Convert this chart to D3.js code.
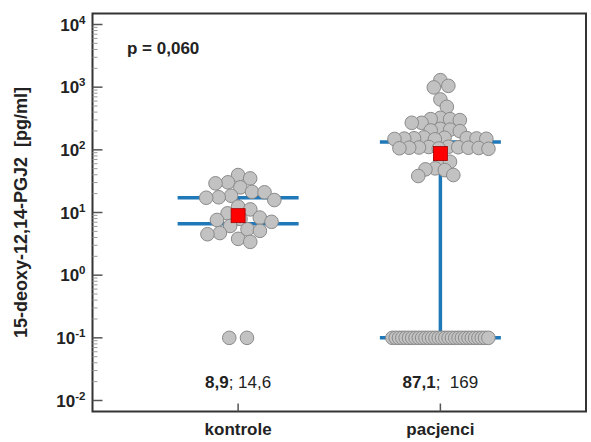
<!DOCTYPE html>
<html>
<head>
<meta charset="utf-8">
<script src="https://cdn.jsdelivr.net/npm/d3@7"></script>
<style>
  html, body { margin: 0; padding: 0; background: #fff; }
  svg { display: block; font-family: "Liberation Sans", Arial, sans-serif; }
</style>
</head>
<body>
<svg id="chart" width="591" height="442"></svg>
<script>
// Groups on the x axis
const categories = ["kontrole", "pacjenci"];

// Individual concentrations [pg/ml]; 0.1 marks results below the detection limit
const kontrole = [39.6, 35, 30.3, 29.2, 25.2, 21.4, 21, 18.5, 17.5, 17.2, 15.8, 12.4, 11.2,
  9.7, 8.3, 7.9, 7.6, 7.1, 6.1, 5.4, 5.1, 4.7, 4.5, 3.8, 3.4, 0.1, 0.1];
const pacjenci = [1294, 1050, 991, 637, 486, 324, 309, 309, 298, 270, 270,
  216, 210, 204, 199,
  158, 156, 154, 153, 152, 151, 150, 149, 147,
  112, 111, 110, 109, 108, 108, 107, 106, 105, 104,
  68.7, 64.5, 50.6, 48.8, 47.5, 39.6, 38.2,
  0.1, 0.1, 0.1, 0.1, 0.1, 0.1, 0.1, 0.1, 0.1, 0.1,
  0.1, 0.1, 0.1, 0.1, 0.1, 0.1, 0.1, 0.1, 0.1, 0.1,
  0.1, 0.1, 0.1, 0.1, 0.1, 0.1, 0.1, 0.1, 0.1, 0.1];
const groupValues = [kontrole, pacjenci];

// Summary per group: median, mean and the interval drawn as blue bars
const medians = [8.9, 87.1];
const means = [14.6, 169];
const ciLow = [6.6, 0.1];
const ciHigh = [17.2, 133];

const detectionLimit = 0.1;
const yTickExponents = [-2, -1, 0, 1, 2, 3, 4];
const pText = "p = 0,060";
const yTitle = "15-deoxy-12,14-PGJ2\u00a0\u00a0[pg/ml]";

const svg = d3.select("#chart");
const frame = { left: 92.5, right: 586, top: 13.5, bottom: 411.5 };
const pad = 11;

const y = d3.scaleLog()
  .domain([1e-2, 1e4])
  .range([frame.bottom - pad, frame.top + pad]);

const x = d3.scalePoint()
  .domain(categories)
  .range([frame.left, frame.right])
  .padding(0.72);

const dotR = 6.8;
const barHalf = 60.5;
const blue = "#1f78b8";
const swarmSpacing = { kontrole: 12.5, pacjenci: 9.8 };

// Beeswarm: keep each dot on its value, slide sideways until it clears the others
function swarm(values, minDist) {
  const sorted = values.filter(v => v > detectionLimit).slice().sort((a, b) => b - a);
  const placed = [];
  sorted.forEach(v => {
    const py = y(v);
    const near = placed.filter(p => Math.abs(p.y - py) < minDist);
    const cands = [0];
    near.forEach(p => {
      const dx = Math.sqrt(minDist * minDist - (p.y - py) * (p.y - py));
      cands.push(p.dx + dx, p.dx - dx);
    });
    cands.sort((a, b) => Math.abs(a) - Math.abs(b) || b - a);
    let best = cands[0];
    for (const c of cands) {
      const ok = near.every(p => (p.dx - c) ** 2 + (p.y - py) ** 2 >= minDist * minDist - 0.01);
      if (ok) { best = c; break; }
    }
    placed.push({ v, y: py, dx: best });
  });
  // results at the detection limit form one row, squeezed to the bar width
  const low = values.filter(v => v <= detectionLimit);
  const n = low.length;
  const span = 96;
  const step = n > 1 ? Math.min(17.7, span / (n - 1)) : 0;
  low.forEach((v, i) => {
    placed.push({ v, y: y(v), dx: (i - (n - 1) / 2) * step });
  });
  return placed;
}

// Frame
svg.append("rect")
  .attr("x", frame.left).attr("y", frame.top)
  .attr("width", frame.right - frame.left).attr("height", frame.bottom - frame.top)
  .attr("fill", "none").attr("stroke", "#333").attr("stroke-width", 2);

// Y ticks (major + minor, pointing inward)
const gy = svg.append("g");
yTickExponents.forEach(e => {
  const v = Math.pow(10, e);
  gy.append("line")
    .attr("x1", frame.left).attr("x2", frame.left + 10)
    .attr("y1", y(v)).attr("y2", y(v))
    .attr("stroke", "#555").attr("stroke-width", 1.5);
  if (e < 4) {
    for (let m = 2; m <= 9; m++) {
      const mv = m * v;
      gy.append("line")
        .attr("x1", frame.left).attr("x2", frame.left + 5)
        .attr("y1", y(mv)).attr("y2", y(mv))
        .attr("stroke", "#999").attr("stroke-width", 1);
    }
  }
  const t = gy.append("text")
    .attr("x", frame.left - 7).attr("y", y(v) + 6)
    .attr("text-anchor", "end")
    .attr("font-size", 17).attr("font-weight", "bold").attr("fill", "#222");
  t.append("tspan").text("10");
  t.append("tspan").attr("dy", -7).attr("font-size", 11.5).text(String(e));
});

// Y title
svg.append("text")
  .attr("transform", `translate(27,${(frame.top + frame.bottom) / 2}) rotate(-90)`)
  .attr("text-anchor", "middle")
  .attr("font-size", 18).attr("font-weight", "bold").attr("fill", "#222")
  .text(yTitle);

// X ticks and category labels
categories.forEach(c => {
  svg.append("line")
    .attr("x1", x(c)).attr("x2", x(c))
    .attr("y1", frame.bottom).attr("y2", frame.bottom - 8)
    .attr("stroke", "#555").attr("stroke-width", 1.5);
  svg.append("text")
    .attr("x", x(c)).attr("y", frame.bottom + 23)
    .attr("text-anchor", "middle")
    .attr("font-size", 17).attr("font-weight", "bold").attr("fill", "#222")
    .text(c);
});

// p value
svg.append("text")
  .attr("x", 127).attr("y", 54)
  .attr("font-size", 17).attr("font-weight", "bold").attr("fill", "#222")
  .text(pText);

const fmt = v => String(v).replace(".", ",");

categories.forEach((c, i) => {
  const cx = x(c);
  const g = svg.append("g");
  // interval bars
  g.append("line")
    .attr("x1", cx).attr("x2", cx)
    .attr("y1", y(ciHigh[i])).attr("y2", y(ciLow[i]))
    .attr("stroke", blue).attr("stroke-width", 3.5);
  [ciLow[i], ciHigh[i]].forEach(v => {
    g.append("line")
      .attr("x1", cx - barHalf).attr("x2", cx + barHalf)
      .attr("y1", y(v)).attr("y2", y(v))
      .attr("stroke", blue).attr("stroke-width", 3.5);
  });
  // dots
  const pts = swarm(groupValues[i], swarmSpacing[c]);
  g.selectAll("circle").data(pts).join("circle")
    .attr("cx", d => cx + d.dx).attr("cy", d => d.y).attr("r", dotR)
    .attr("fill", "#c2c2c2").attr("stroke", "#8a8a8a").attr("stroke-width", 1);
  // median marker
  g.append("rect")
    .attr("x", cx - 7).attr("y", y(medians[i]) - 7)
    .attr("width", 14).attr("height", 14)
    .attr("fill", "#ff0000").attr("stroke", "#a00000").attr("stroke-width", 0.8);
  // median; mean
  const t = svg.append("text")
    .attr("x", cx).attr("y", 388)
    .attr("text-anchor", "middle")
    .attr("font-size", 17).attr("fill", "#222");
  t.append("tspan").attr("font-weight", "bold").text(fmt(medians[i]));
  t.append("tspan").text(";" + (i === 1 ? "\u00a0 " : " ") + fmt(means[i]));
});
</script>
</body>
</html>
